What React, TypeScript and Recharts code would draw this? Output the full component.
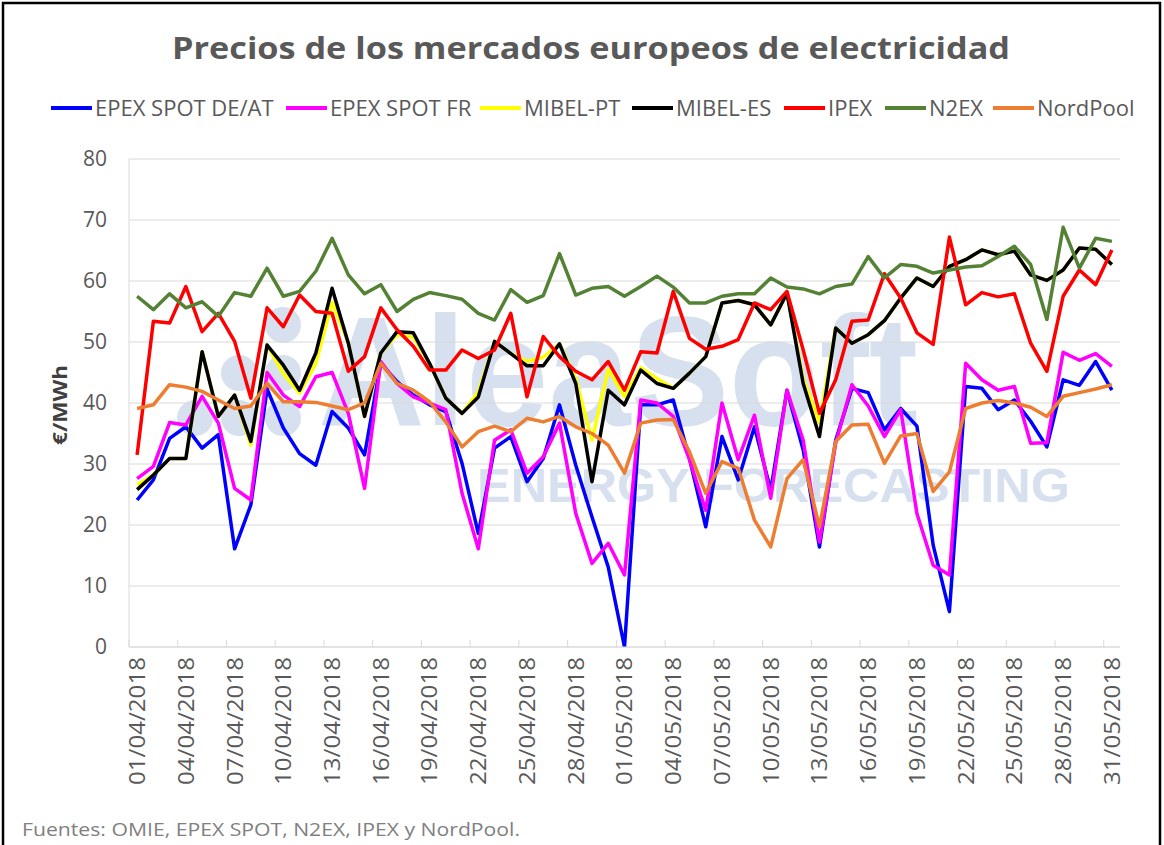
import React from 'react';
import { LineChart, Line, XAxis, YAxis, CartesianGrid } from 'recharts';

const dates = [
  '01/04/2018', '02/04/2018', '03/04/2018', '04/04/2018', '05/04/2018', '06/04/2018', '07/04/2018', '08/04/2018', '09/04/2018', '10/04/2018',
  '11/04/2018', '12/04/2018', '13/04/2018', '14/04/2018', '15/04/2018', '16/04/2018', '17/04/2018', '18/04/2018', '19/04/2018', '20/04/2018',
  '21/04/2018', '22/04/2018', '23/04/2018', '24/04/2018', '25/04/2018', '26/04/2018', '27/04/2018', '28/04/2018', '29/04/2018', '30/04/2018',
  '01/05/2018', '02/05/2018', '03/05/2018', '04/05/2018', '05/05/2018', '06/05/2018', '07/05/2018', '08/05/2018', '09/05/2018', '10/05/2018',
  '11/05/2018', '12/05/2018', '13/05/2018', '14/05/2018', '15/05/2018', '16/05/2018', '17/05/2018', '18/05/2018', '19/05/2018', '20/05/2018',
  '21/05/2018', '22/05/2018', '23/05/2018', '24/05/2018', '25/05/2018', '26/05/2018', '27/05/2018', '28/05/2018', '29/05/2018', '30/05/2018',
  '31/05/2018',
];

// €/MWh
const epexDeAt = [
  24.1, 27.4, 34.2, 36.1, 32.6, 34.8, 16.1, 23.3, 42.3, 35.9,
  31.7, 29.8, 38.6, 35.9, 31.5, 46.5, 43.5, 41.3, 39.7, 38.6,
  30.1, 18.6, 32.6, 34.5, 27.1, 30.9, 39.7, 29.8, 21.3, 13.1,
  0, 39.7, 39.7, 40.5, 30.9, 19.7, 34.5, 27.4, 36.1, 25.7,
  42.1, 32.3, 16.4, 33.9, 42.4, 41.7, 35.6, 39.1, 36.2, 16.7,
  5.8, 42.7, 42.4, 38.9, 40.5, 37.0, 32.8, 43.8, 42.9, 46.8, 42.1,
];
const epexFr = [
  27.6, 29.6, 36.8, 36.4, 41.1, 36.7, 26.0, 24.1, 45.0, 41.3,
  39.4, 44.3, 45.0, 38.3, 26.0, 46.8, 43.2, 41.0, 40.0, 38.9,
  25.2, 16.1, 33.9, 35.6, 28.5, 31.2, 36.7, 21.9, 13.7, 17.0,
  11.8, 40.5, 40.0, 37.8, 30.7, 22.4, 40.0, 30.7, 38.0, 24.4,
  42.1, 33.9, 17.2, 33.4, 43.0, 39.5, 34.5, 38.9, 21.9, 13.4,
  11.8, 46.5, 43.8, 42.1, 42.7, 33.4, 33.5, 48.3, 47.0, 48.1, 46.0,
];
const mibelPt = [
  26.6, 28.2, 30.9, 30.9, 48.4, 37.8, 41.3, 33.1, 49.5, 44.8,
  41.6, 46.5, 56.5, 49.8, 37.8, 48.2, 51.2, 50.8, 46.5, 40.8,
  38.3, 41.8, 50.1, 48.1, 46.8, 47.5, 49.7, 44.0, 33.9, 45.5,
  41.0, 45.8, 44.0, 42.4, 44.9, 47.6, 56.4, 56.8, 56.1, 52.8,
  58.0, 44.0, 36.8, 52.3, 49.8, 51.2, 53.5, 57.2, 60.5, 59.1,
  62.4, 63.5, 65.1, 64.3, 64.9, 61.0, 60.1, 61.8, 65.4, 65.2, 62.7,
];
const mibelEs = [
  25.8, 28.2, 30.9, 30.9, 48.4, 37.8, 41.3, 33.7, 49.5, 46.2,
  42.1, 48.2, 58.8, 49.8, 37.8, 48.2, 51.7, 51.5, 46.5, 40.8,
  38.3, 41.0, 50.1, 48.1, 46.1, 46.1, 49.7, 43.2, 27.1, 42.1,
  39.7, 45.4, 43.2, 42.4, 44.9, 47.6, 56.4, 56.8, 56.1, 52.8,
  58.0, 43.2, 34.5, 52.3, 49.8, 51.2, 53.5, 57.2, 60.5, 59.1,
  62.4, 63.5, 65.1, 64.3, 64.9, 61.0, 60.1, 61.8, 65.4, 65.2, 62.7,
];
const ipex = [
  31.5, 53.4, 53.1, 59.1, 51.7, 54.7, 50.1, 40.8, 55.6, 52.5,
  57.7, 55.0, 54.7, 45.2, 47.6, 55.6, 52.0, 49.3, 45.4, 45.4,
  48.7, 47.3, 48.7, 54.7, 41.0, 50.9, 47.6, 45.2, 43.8, 46.8,
  42.1, 48.4, 48.2, 58.3, 50.6, 48.8, 49.3, 50.4, 56.4, 55.3,
  58.3, 48.7, 38.3, 43.8, 53.4, 53.6, 61.2, 57.2, 51.5, 49.6,
  67.2, 56.1, 58.1, 57.4, 57.9, 49.8, 45.2, 57.5, 61.8, 59.4, 65.1,
];
const n2ex = [
  57.5, 55.3, 57.9, 55.6, 56.6, 54.2, 58.1, 57.5, 62.1, 57.5,
  58.3, 61.6, 67.0, 61.0, 57.9, 59.4, 55.0, 57.0, 58.1, 57.6,
  57.0, 54.7, 53.6, 58.6, 56.5, 57.6, 64.5, 57.7, 58.8, 59.1,
  57.5, 59.1, 60.8, 59.0, 56.4, 56.4, 57.5, 57.9, 57.9, 60.5,
  59.0, 58.7, 57.9, 59.1, 59.5, 64.0, 60.5, 62.7, 62.4, 61.3,
  61.8, 62.3, 62.5, 64.0, 65.7, 62.7, 53.7, 68.8, 62.1, 67.0, 66.5,
];
const nordPool = [
  39.1, 39.7, 43.0, 42.6, 41.9, 40.5, 39.1, 39.5, 43.2, 40.2,
  40.2, 40.1, 39.5, 38.9, 40.0, 46.5, 43.2, 42.1, 40.2, 36.9,
  32.8, 35.3, 36.2, 35.3, 37.5, 36.9, 37.8, 36.1, 35.0, 33.1,
  28.5, 36.7, 37.2, 37.3, 32.0, 25.2, 30.4, 29.3, 20.8, 16.4,
  27.6, 30.7, 19.7, 33.7, 36.4, 36.5, 30.1, 34.6, 35.0, 25.5,
  28.7, 39.1, 40.0, 40.4, 40.0, 39.3, 37.8, 41.1, 41.7, 42.3, 43.0,
];

const yTicks = [0, 10, 20, 30, 40, 50, 60, 70, 80];

const series = [
  { key: 'deat', name: 'EPEX SPOT DE/AT', color: '#0000ff', values: epexDeAt },
  { key: 'fr', name: 'EPEX SPOT FR', color: '#ff00ff', values: epexFr },
  { key: 'pt', name: 'MIBEL-PT', color: '#ffff00', values: mibelPt },
  { key: 'es', name: 'MIBEL-ES', color: '#000000', values: mibelEs },
  { key: 'ipex', name: 'IPEX', color: '#ff0000', values: ipex },
  { key: 'n2ex', name: 'N2EX', color: '#548235', values: n2ex },
  { key: 'nord', name: 'NordPool', color: '#ed7d31', values: nordPool },
];

const chartData = dates.map((date, i) => {
  const row: Record<string, string | number> = { date };
  series.forEach(s => { row[s.key] = s.values[i]; });
  return row;
});

const W = 1164;
const H = 845;
const PLOT_LEFT = 129;
const PLOT_RIGHT = 1120;
const BAND = (PLOT_RIGHT - PLOT_LEFT) / dates.length;
const FONT = "'Open Sans', 'DejaVu Sans', sans-serif";
const legendX = [51, 286, 480, 632, 784, 885, 993];

const DateTick = ({ x, y, payload }: any) => (
  <g>
    <line x1={x - BAND / 2} x2={x - BAND / 2} y1={y} y2={y - 7} stroke="#d9d9d9" />
    <text
      transform={`translate(${x},${y + 10}) rotate(-90)`}
      textAnchor="end"
      dy="0.36em"
      fontSize={22}
      fontFamily={FONT}
      fill="#595959"
      textLength={128}
      lengthAdjust="spacingAndGlyphs"
    >
      {payload.value}
    </text>
  </g>
);

export default function App() {
  return (
    <div style={{ position: 'absolute', left: 0, top: 0, width: W, height: H, background: '#fff', fontFamily: FONT }}>
      <svg width={W} height={H} style={{ position: 'absolute', left: 0, top: 0 }}>
        {/* watermark */}
        <g fill="#d7e0ef">
          <circle cx={283} cy={325} r={18} />
          <circle cx={239} cy={373} r={18} />
          <circle cx={283} cy={373} r={18} />
          <circle cx={195} cy={418} r={18} />
          <circle cx={239} cy={418} r={18} />
          <circle cx={283} cy={418} r={18} />
          <text x={318} y={425} fontSize={155} fontWeight="bold" fontFamily="'Liberation Sans', Arial, sans-serif" textLength={600} lengthAdjust="spacingAndGlyphs">AleaSoft</text>
          <text x={477} y={502} fontSize={48} fontWeight="bold" fontFamily="'Liberation Sans', Arial, sans-serif" textLength={593} lengthAdjust="spacingAndGlyphs">ENERGY FORECASTING</text>
        </g>

        <path d={`M3,${H} V3 H1160 V${H}`} fill="none" stroke="#000" strokeWidth={2.5} />

        <text x={591} y={59} textAnchor="middle" fontSize={31} fontWeight="bold" fill="#595959" fontFamily={FONT} textLength={838} lengthAdjust="spacingAndGlyphs">
          Precios de los mercados europeos de electricidad
        </text>

        {series.map((s, i) => (
          <g key={s.key}>
            <line x1={legendX[i]} x2={legendX[i] + 41} y1={108} y2={108} stroke={s.color} strokeWidth={4} />
            <text x={legendX[i] + 44} y={116} fontSize={22} fill="#595959" fontFamily={FONT}>{s.name}</text>
          </g>
        ))}

        <text transform="translate(60,405) rotate(-90)" textAnchor="middle" dy="0.35em" fontSize={19} fontWeight="bold" fill="#404040" fontFamily={FONT} textLength={80} lengthAdjust="spacingAndGlyphs">
          €/MWh
        </text>

        <text x={22} y={836} fontSize={19} fill="#808080" fontFamily={FONT} textLength={498} lengthAdjust="spacingAndGlyphs">
          Fuentes: OMIE, EPEX SPOT, N2EX, IPEX y NordPool.
        </text>
      </svg>

      <div style={{ position: 'absolute', left: 0, top: 0 }}>
        <LineChart width={W} height={H} data={chartData} margin={{ top: 159, right: W - PLOT_RIGHT, left: PLOT_LEFT - 68, bottom: 48 }}>
          <CartesianGrid vertical={false} stroke="#d9d9d9" />
          <XAxis
            dataKey="date"
            scale="band"
            interval={2}
            height={150}
            tickLine={false}
            tickSize={0}
            tickMargin={0}
            axisLine={{ stroke: '#d9d9d9' }}
            tick={(props: any) => <DateTick {...props} />}
          />
          <YAxis
            width={68}
            domain={[0, 80]}
            ticks={yTicks}
            allowDataOverflow
            tickLine={false}
            tickSize={0}
            tickMargin={22}
            axisLine={{ stroke: '#d9d9d9' }}
            tick={{ fill: '#595959', fontSize: 21, fontFamily: FONT }}
          />
          {series.map(s => (
            <Line
              key={s.key}
              type="linear"
              dataKey={s.key}
              name={s.name}
              stroke={s.color}
              strokeWidth={3.5}
              strokeLinejoin="round"
              dot={false}
              activeDot={false}
              isAnimationActive={false}
            />
          ))}
        </LineChart>
      </div>
    </div>
  );
}
